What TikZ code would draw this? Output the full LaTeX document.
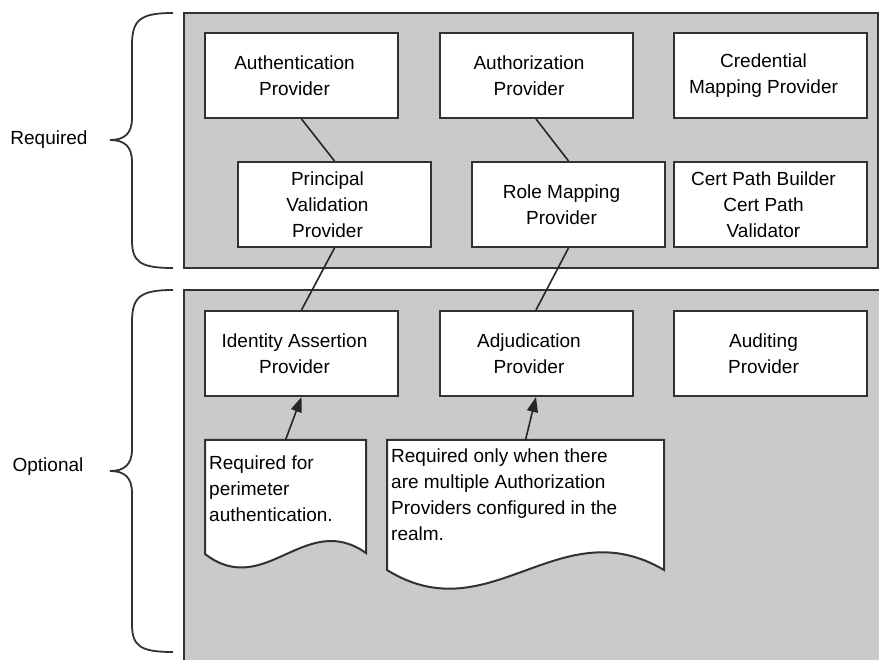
\documentclass[tikz,border=0pt]{standalone}
\usepackage{fontspec}
\setmainfont{Liberation Sans}
\usetikzlibrary{arrows.meta}
\definecolor{panelgray}{RGB}{202,202,202}
\definecolor{edgegray}{RGB}{50,50,50}
\begin{document}
\begin{tikzpicture}[x=1pt,y=-1pt,
  font=\fontsize{19}{26}\selectfont,
  provbox/.style={draw=edgegray, line width=2pt, fill=white, minimum width=193pt, minimum height=85pt, inner sep=0pt},
  boxtext/.style={align=center, inner sep=0pt, xshift=-7pt, font=\fontsize{19}{26}\selectfont},
  link/.style={draw=black!85, line width=1.6pt},
  notebox/.style={draw=edgegray, line width=2pt, fill=white},
  notetext/.style={anchor=north west, align=left, inner sep=0pt, font=\fontsize{19}{25.8}\selectfont},
  bracestyle/.style={draw=edgegray, line width=1.8pt},
  arrowtip/.style={-{Triangle[length=15pt,width=11pt]}}]
\useasboundingbox (0,0) rectangle (879,660);
% panels
\fill[panelgray] (184,13) rectangle (878,268);
\draw[edgegray, line width=2pt] (184,13) rectangle (878,268);
\fill[panelgray] (184,290) rectangle (879,660);
\draw[edgegray, line width=2pt] (184,660) -- (184,290) -- (879,290);
% braces
\draw[bracestyle] (173,13) .. controls (140,13) and (132,20) .. (132,45) -- (132,118)
  .. controls (132,134) and (124,140) .. (110,140)
  .. controls (124,140) and (132,146) .. (132,162) -- (132,240)
  .. controls (132,262) and (140,268) .. (173,268);
\draw[bracestyle] (173,290) .. controls (140,290) and (132,297) .. (132,322) -- (132,449)
  .. controls (132,465) and (124,471) .. (110,471)
  .. controls (124,471) and (132,477) .. (132,493) -- (132,624)
  .. controls (132,646) and (140,652) .. (173,652);
\node (req) at (49,140) {Required};
\node (opt) at (48,467) {Optional};
% provider boxes
\node[provbox, label={[boxtext]center:Authentication\\Provider}] (auth)  at (301.5,75.5) {};
\node[provbox, label={[boxtext]center:Authorization\\Provider}] (authz) at (536,75.5) {};
\node[provbox, label={[boxtext]center:Credential\\Mapping Provider}] (cred)  at (770.5,75.5) {};
\node[provbox, label={[boxtext]center:Principal\\Validation\\Provider}] (princ) at (334.5,204.5) {};
\node[provbox, label={[boxtext]center:Role Mapping\\Provider}] (role)  at (568.5,204.5) {};
\node[provbox, label={[boxtext]center:Cert Path Builder\\Cert Path\\Validator}] (cert)  at (770.5,204.5) {};
\node[provbox, label={[boxtext]center:Identity Assertion\\Provider}] (ident) at (301.5,353.5) {};
\node[provbox, label={[boxtext]center:Adjudication\\Provider}] (adj)   at (536,353.5) {};
\node[provbox, label={[boxtext]center:Auditing\\Provider}] (audit) at (770.5,353.5) {};
% links
\draw[link] (auth.south) -- (princ.north);
\draw[link] (authz.south) -- (role.north);
\draw[link] (princ.south) -- (ident.north);
\draw[link] (role.south) -- (adj.north);
% notes
\draw[notebox] (205,554) -- (205,440) -- (366,440) -- (366,553)
  .. controls (305,510) and (265,600) .. (205,554) -- cycle;
\draw[notebox] (387,570) -- (387,440) -- (664,440) -- (664,570)
  .. controls (559,508) and (490,634) .. (387,570) -- cycle;
\node[notetext] (t1) at (209,456) {Required for\\perimeter\\authentication.};
\node[notetext] (t2) at (391,449) {Required only when there\\are multiple Authorization\\Providers configured in the\\realm.};
\coordinate (n1top) at (285.5,440);
\coordinate (n2top) at (525.5,440);
\draw[link, arrowtip] (n1top) -- (ident.south);
\draw[link, arrowtip] (n2top) -- (adj.south);
\end{tikzpicture}
\end{document}
